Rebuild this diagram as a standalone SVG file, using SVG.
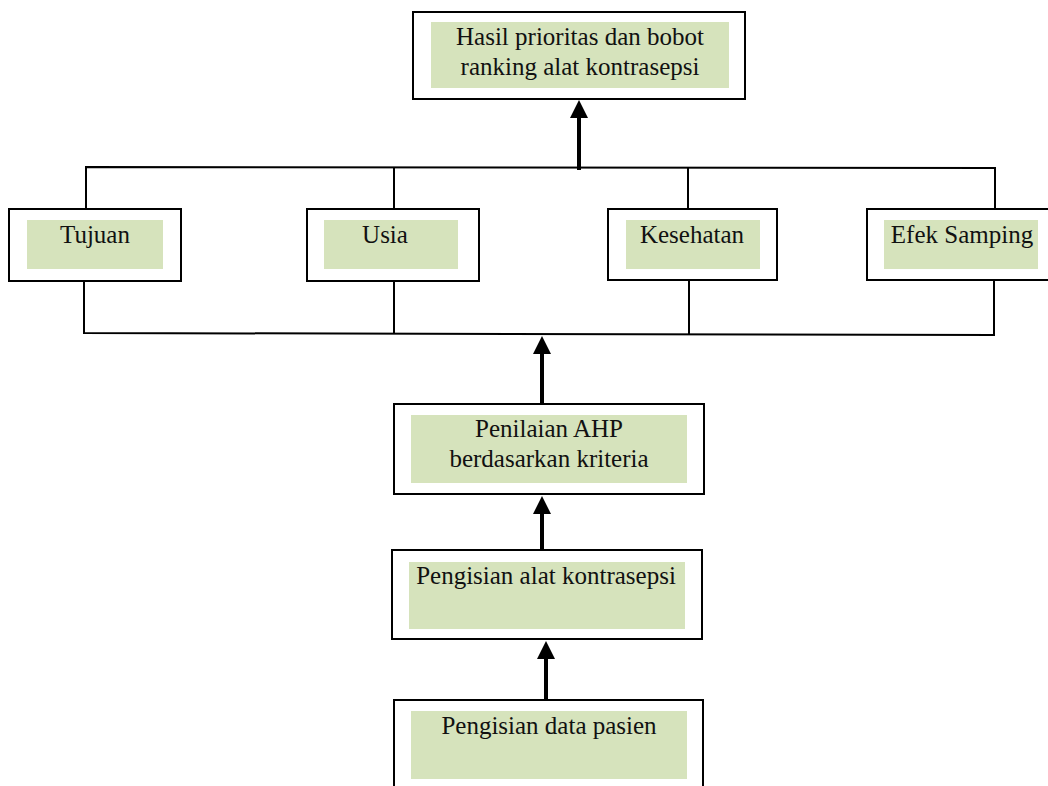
<svg xmlns="http://www.w3.org/2000/svg" width="1048" height="786" viewBox="0 0 1048 786">
<style>
.box{fill:#ffffff;stroke:#000;stroke-width:2}
.in{fill:#D6E3BC;stroke:none}
.t{font-family:"Liberation Serif","Times New Roman",serif;font-size:25px;fill:#111;text-anchor:middle}
.ln{fill:none;stroke:#000;stroke-width:2}
.ar{fill:none;stroke:#000;stroke-width:4}
</style>
<defs>
<marker id="ah" viewBox="0 0 18 18" refX="0" refY="9" markerWidth="18" markerHeight="18" orient="auto" markerUnits="userSpaceOnUse">
<path d="M0,0 L18,9 L0,18 z" fill="#000"/>
</marker>
</defs>
<rect width="1048" height="786" fill="#fff"/>
<g id="connectors">
<polyline class="ln" points="86,209 86,167 995,168 995,209"/>
<line class="ln" x1="394" y1="167" x2="394" y2="209"/>
<line class="ln" x1="688" y1="167" x2="688" y2="209"/>
<polyline class="ln" points="84,281 84,333 994,335 994,280"/>
<line class="ln" x1="394" y1="281" x2="394" y2="333"/>
<line class="ln" x1="689" y1="280" x2="689" y2="334"/>
<line class="ar" x1="579" y1="170" x2="579" y2="118" marker-end="url(#ah)"/>
<line class="ar" x1="542" y1="404" x2="542" y2="354" marker-end="url(#ah)"/>
<line class="ar" x1="542" y1="550" x2="542" y2="514" marker-end="url(#ah)"/>
<line class="ar" x1="546" y1="700" x2="546" y2="659" marker-end="url(#ah)"/>
</g>
<g id="hasil">
<rect class="box" x="413" y="12" width="332" height="87"/>
<rect class="in" x="431" y="22" width="298" height="66"/>
<text class="t" x="580" y="45">Hasil prioritas dan bobot</text>
<text class="t" x="580" y="75">ranking alat kontrasepsi</text>
</g>
<g id="tujuan">
<rect class="box" x="9" y="209" width="172" height="72"/>
<rect class="in" x="27" y="220" width="136" height="49"/>
<text class="t" x="95" y="243">Tujuan</text>
</g>
<g id="usia">
<rect class="box" x="307" y="209" width="172" height="72"/>
<rect class="in" x="324" y="220" width="134" height="49"/>
<text class="t" x="385" y="243">Usia</text>
</g>
<g id="kesehatan">
<rect class="box" x="608" y="209" width="169" height="71"/>
<rect class="in" x="626" y="220" width="134" height="49"/>
<text class="t" x="692" y="243">Kesehatan</text>
</g>
<g id="efek">
<rect class="box" x="867" y="209" width="184" height="71"/>
<rect class="in" x="884" y="220" width="154" height="49"/>
<text class="t" x="962" y="243">Efek Samping</text>
</g>
<g id="penilaian">
<rect class="box" x="394" y="404" width="310" height="90"/>
<rect class="in" x="411" y="415" width="276" height="68"/>
<text class="t" x="549" y="437">Penilaian AHP</text>
<text class="t" x="549" y="467">berdasarkan kriteria</text>
</g>
<g id="pengisian-alat">
<rect class="box" x="392" y="550" width="310" height="89"/>
<rect class="in" x="409" y="562" width="276" height="67"/>
<text class="t" x="546" y="584">Pengisian alat kontrasepsi</text>
</g>
<g id="pengisian-data">
<rect class="box" x="394" y="700" width="309" height="100"/>
<rect class="in" x="411" y="711" width="276" height="68"/>
<text class="t" x="549" y="734">Pengisian data pasien</text>
</g>
</svg>
